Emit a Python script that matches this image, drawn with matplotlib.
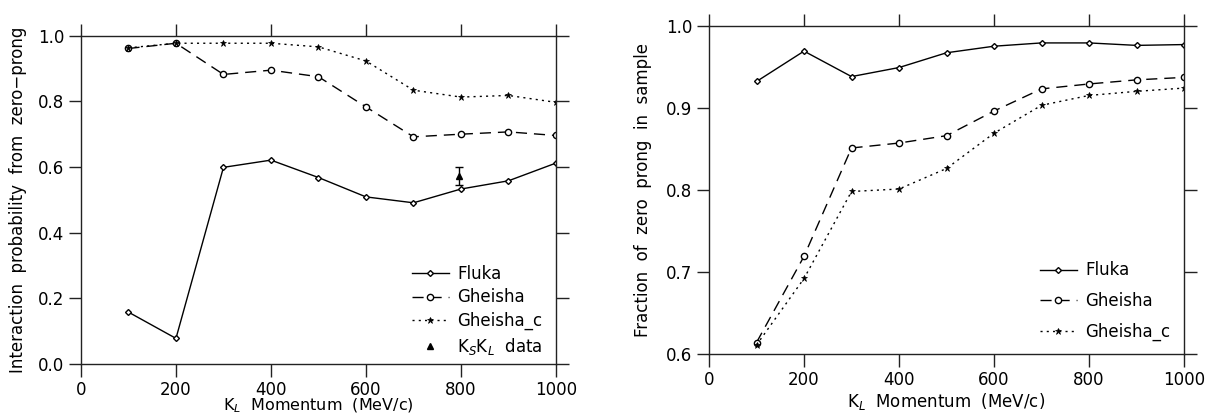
import matplotlib
matplotlib.use("Agg")
import matplotlib.pyplot as plt

# momentum points (MeV/c)
momentum = [100, 200, 300, 400, 500, 600, 700, 800, 900, 1000]

# interaction probability from zero-prong
prob_fluka = [0.158, 0.078, 0.599, 0.621, 0.568, 0.509, 0.491, 0.533, 0.558, 0.612]
prob_gheisha = [0.961, 0.977, 0.882, 0.895, 0.875, 0.783, 0.692, 0.700, 0.707, 0.696]
prob_gheisha_c = [0.963, 0.977, 0.977, 0.977, 0.966, 0.923, 0.834, 0.813, 0.818, 0.797]

# KsKL measurement
data_x = [795]
data_y = [0.573]
data_err = [0.027]

# fraction of zero prong in sample
frac_fluka = [0.932, 0.969, 0.938, 0.949, 0.967, 0.975, 0.979, 0.979, 0.976, 0.977]
frac_gheisha = [0.614, 0.719, 0.851, 0.857, 0.866, 0.896, 0.923, 0.929, 0.934, 0.937]
frac_gheisha_c = [0.611, 0.692, 0.798, 0.801, 0.826, 0.869, 0.903, 0.915, 0.920, 0.924]

plt.rcParams["font.family"] = ["DejaVu Sans"]
plt.rcParams["font.size"] = 12

fig = plt.figure(figsize=(12.12, 4.17), dpi=100)
ax1 = fig.add_axes([0.0668, 0.1271, 0.3919, 0.7873])
ax2 = fig.add_axes([0.585, 0.1511, 0.3919, 0.7873])


def style_axes(ax):
    for s in ax.spines.values():
        s.set_linewidth(1.0)
        s.set_color("#222222")
    ax.tick_params(direction="out", length=9, width=1.0, color="#222222",
                   top=True, right=True, labeltop=False, labelright=False,
                   pad=3, labelsize=12)
    ax.set_xlim(0, 1000)
    ax.set_xticks([0, 200, 400, 600, 800, 1000])


def draw_series(ax, fluka, gheisha, gheisha_c):
    ax.plot(momentum, fluka, "-", color="black", lw=1.0,
            marker="D", ms=3, mfc="white", mew=1.0, label="Fluka")
    ax.plot(momentum, gheisha, color="black", lw=1.0, ls=(0, (8, 5)),
            marker="o", ms=4.5, mfc="white", mew=1.0, label="Gheisha")
    ax.plot(momentum, gheisha_c, color="black", lw=1.0, ls=(0, (1.5, 3)),
            marker="*", ms=5, mfc="black", mew=0.5, label="Gheisha_c")


# left: interaction probability
style_axes(ax1)
draw_series(ax1, prob_fluka, prob_gheisha, prob_gheisha_c)
ax1.errorbar(data_x, data_y, yerr=data_err, fmt="none", ecolor="black",
             elinewidth=1.0, capsize=3, capthick=1.0)
ax1.plot(data_x, data_y, "^", color="black", ms=5, ls="none",
         label=r"K$_S$K$_L$  data")
ax1.set_ylim(0, 1.0)
ax1.set_yticks([0.0, 0.2, 0.4, 0.6, 0.8, 1.0])
ax1.set_yticklabels(["0.0", "0.2", "0.4", "0.6", "0.8", "1.0"])
ax1.set_xlabel(r"K$_L$  Momentum  (MeV/c)", labelpad=-1.5, fontsize=11.5)
ax1.set_ylabel("Interaction  probability  from  zero\u2212prong", labelpad=8)
ax1.legend(loc="lower left", bbox_to_anchor=(0.683, 0.0), frameon=False,
           handlelength=2.2, handletextpad=0.5, labelspacing=0.35,
           borderaxespad=0, fontsize=12)

# right: fraction of zero prong
style_axes(ax2)
draw_series(ax2, frac_fluka, frac_gheisha, frac_gheisha_c)
ax2.set_ylim(0.6, 1.0)
ax2.set_yticks([0.6, 0.7, 0.8, 0.9, 1.0])
ax2.set_yticklabels(["0.6", "0.7", "0.8", "0.9", "1.0"])
ax2.set_xlabel(r"K$_L$  Momentum  (MeV/c)", labelpad=2)
ax2.set_ylabel("Fraction  of  zero  prong  in  sample", labelpad=10)
ax2.legend(loc="lower left", bbox_to_anchor=(0.683, 0.02), frameon=False,
           handlelength=2.2, handletextpad=0.5, labelspacing=0.75,
           borderaxespad=0, fontsize=12)

fig.savefig("out.png", dpi=100)
